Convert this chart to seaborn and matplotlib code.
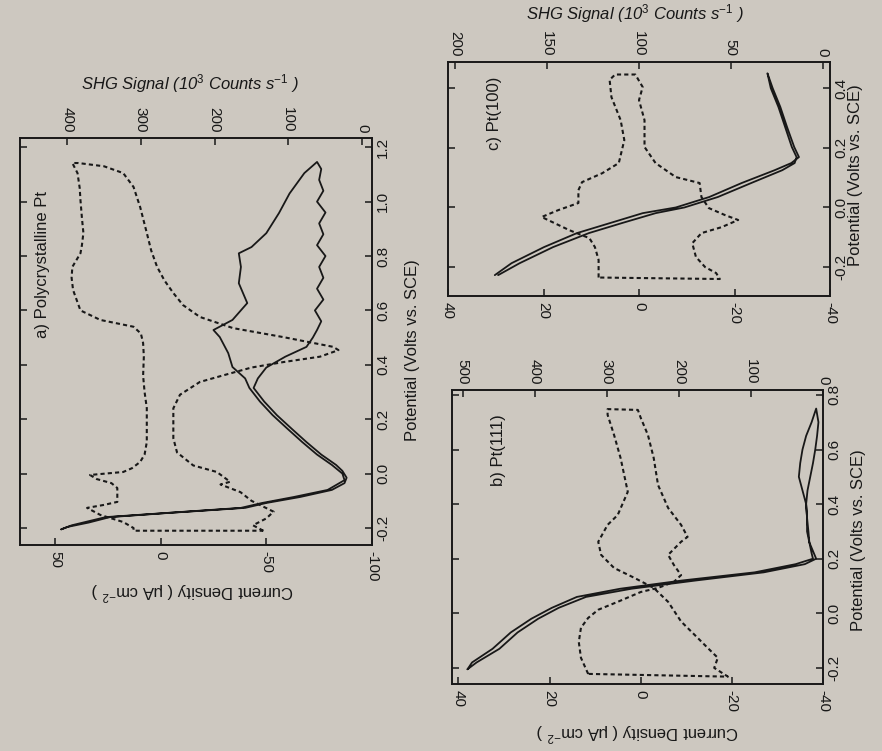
import matplotlib
matplotlib.use("Agg")
import matplotlib.pyplot as plt
import seaborn as sns

# ---------------- data ----------------
# Panel a) Polycrystalline Pt : potential (V vs SCE), current density (uA cm-2), SHG (10^3 counts/s)
a_cv_fwd_E = [-0.205, -0.196, -0.18, -0.16, -0.145, -0.126, -0.108, -0.086, -0.06, -0.035, -0.015, 0.01,
              0.032, 0.07, 0.116, 0.165, 0.215, 0.265, 0.315, 0.35, 0.39, 0.43, 0.466, 0.5, 0.528, 0.56,
              0.6, 0.64, 0.68, 0.72, 0.76, 0.8, 0.84, 0.88, 0.92, 0.96, 1.0, 1.04, 1.08, 1.12, 1.146]
a_cv_fwd_j = [47, 44, 34, 24, -3, -40, -50, -66, -81, -87, -88, -86,
              -83, -76, -69, -62, -55, -49, -44, -46, -50, -59, -69, -72, -74, -76,
              -73, -77, -74, -77, -75, -78, -74, -77, -75, -78, -74, -77, -75, -76, -74]
a_cv_rev_E = [1.146, 1.105, 1.03, 0.958, 0.884, 0.833, 0.81, 0.76, 0.70, 0.627, 0.565, 0.528, 0.502,
              0.443, 0.392, 0.35, 0.315, 0.265, 0.215, 0.165, 0.116, 0.07, 0.032, 0.0, -0.024, -0.06,
              -0.086, -0.108, -0.126, -0.16, -0.19, -0.205]
a_cv_rev_j = [-74, -68, -61, -56, -50, -43, -37, -38, -37, -41, -34, -25, -28,
              -32, -34, -40, -42, -47, -53, -60, -67, -74, -81, -86, -87, -79,
              -63, -48, -38, 26, 42, 47]
a_shg_E = [-0.21, -0.19, -0.165, -0.14, -0.1, -0.068, -0.04, -0.03, 0.006, 0.03, 0.078, 0.13, 0.18,
           0.24, 0.29, 0.337, 0.36, 0.39, 0.41, 0.43, 0.454, 0.466, 0.502, 0.535, 0.576, 0.62, 0.664,
           0.71, 0.76, 0.82, 0.885, 0.98, 1.054, 1.105, 1.13, 1.142, 1.142, 1.105, 1.05, 1.006, 0.94,
           0.885, 0.84, 0.81, 0.76, 0.72, 0.675, 0.60, 0.565, 0.54, 0.515, 0.48, 0.43, 0.36, 0.30,
           0.241, 0.18, 0.116, 0.07, 0.043, 0.02, 0.006, -0.005, -0.02, -0.035, -0.053, -0.08, -0.104,
           -0.115, -0.126, -0.152, -0.178, -0.2, -0.21, -0.21]
a_shg_S = [134, 148, 130, 120, 150, 165, 192, 179, 197, 229, 251, 256, 256,
           256, 247, 220, 190, 150, 107, 57, 32, 39, 107, 175, 220, 243, 256,
           268, 278, 286, 292, 301, 310, 324, 350, 385, 393, 386, 383, 382, 380,
           378, 380, 382, 393, 394, 392, 382, 355, 310, 300, 297, 296, 297, 295,
           292, 292, 292, 295, 301, 312, 324, 369, 360, 340, 332, 332, 332,
           350, 373, 355, 324, 310, 310, 134]
a_E_ticks = [-0.2, 0.0, 0.2, 0.4, 0.6, 0.8, 1.0, 1.2]
a_E_labels = ["-0.2", "0.0", "0.2", "0.4", "0.6", "0.8", "1.0", "1.2"]
a_j_ticks = [50, 0, -50, -100]
a_j_labels = ["50", "0", "-50", "-100"]
a_s_ticks = [0, 100, 200, 300, 400]
a_s_labels = ["0", "100", "200", "300", "400"]

# Panel b) Pt(111)
b_cv_fwd_E = [-0.205, -0.18, -0.13, -0.07, -0.02, 0.02, 0.06, 0.09, 0.12, 0.15, 0.18, 0.2, 0.22,
              0.26, 0.3, 0.35, 0.4, 0.45, 0.5, 0.55, 0.6, 0.65, 0.7, 0.75]
b_cv_fwd_j = [38, 36, 31, 27, 22.5, 18, 12, 2, -12, -27, -36, -38.5, -38,
              -37, -36.8, -36.5, -36.3, -36.6, -37.2, -37.8, -38.3, -38.7, -39, -38.5]
b_cv_rev_E = [0.75, 0.7, 0.65, 0.6, 0.55, 0.5, 0.45, 0.4, 0.35, 0.3, 0.26, 0.22, 0.2, 0.18,
              0.15, 0.12, 0.09, 0.06, 0.02, -0.02, -0.07, -0.13, -0.18, -0.205]
b_cv_rev_j = [-38.5, -37.5, -36.3, -35.5, -35, -34.7, -35.5, -36.3, -36.5, -36.5, -37, -37.5, -37.8, -34,
              -25, -9, 4.5, 14, 19.5, 24, 28.5, 32.5, 37, 38]
b_shg_E = [-0.222, -0.163, -0.105, -0.053, -0.017, 0.013, 0.042, 0.078, 0.093, 0.115, 0.14, 0.177,
           0.214, 0.262, 0.28, 0.324, 0.386, 0.47, 0.569, 0.653, 0.716, 0.745, 0.748, 0.727, 0.653,
           0.569, 0.507, 0.445, 0.36, 0.324, 0.262, 0.214, 0.166, 0.13, 0.093, 0.042, -0.03, -0.09,
           -0.127, -0.163, -0.2, -0.232, -0.222]
b_shg_S = [326, 336, 339, 336, 326, 312, 285, 253, 229, 207, 197, 207,
           215, 197, 188, 197, 215, 229, 235, 243, 253, 257, 299, 299, 290,
           281, 276, 271, 285, 299, 312, 308, 290, 262, 235, 215, 197, 174,
           160, 146, 151, 132, 326]
b_E_ticks = [-0.2, 0.0, 0.2, 0.4, 0.6, 0.8]
b_E_labels = ["-0.2", "0.0", "0.2", "0.4", "0.6", "0.8"]
b_j_ticks = [40, 20, 0, -20, -40]
b_j_labels = ["40", "20", "0", "-20", "-40"]
b_s_ticks = [0, 100, 200, 300, 400, 500]
b_s_labels = ["0", "100", "200", "300", "400", "500"]

# Panel c) Pt(100)
c_cv_fwd_E = [-0.227, -0.187, -0.133, -0.086, -0.052, -0.019, 0.0, 0.035, 0.082, 0.125, 0.149, 0.169,
              0.203, 0.27, 0.337, 0.4, 0.45]
c_cv_fwd_j = [30.2, 26.7, 19.9, 13, 6, -0.8, -7.7, -14.7, -21.5, -28.4, -31.9, -33.5,
              -32.5, -31, -29.6, -28, -26.9]
c_cv_rev_E = [0.45, 0.4, 0.337, 0.27, 0.203, 0.169, 0.149, 0.125, 0.082, 0.035, 0.0, -0.019,
              -0.052, -0.086, -0.133, -0.187, -0.227]
c_cv_rev_j = [-26.9, -27.6, -29.2, -30.6, -32, -33, -32.6, -30, -23.5, -16.5, -9.5, -3.5,
              3.5, 10.5, 18, 25, 29.5]
c_shg_E = [-0.235, -0.176, -0.133, -0.103, -0.076, -0.032, -0.009, 0.015, 0.058, 0.085, 0.115, 0.149,
           0.226, 0.293, 0.37, 0.428, 0.446, 0.446, 0.404, 0.36, 0.293, 0.203, 0.149, 0.102, 0.082,
           0.035, -0.002, -0.026, -0.042, -0.066, -0.086, -0.12, -0.166, -0.2, -0.22, -0.24, -0.235]
c_shg_S = [122, 122, 124, 127, 138, 153, 144, 133, 133, 131, 120, 111,
           108, 110, 115, 116, 113, 102, 98, 100, 97, 97, 91, 80, 67,
           66, 62, 53, 46, 55, 66, 71, 69, 64, 58, 56, 122]
c_E_ticks = [-0.2, 0.0, 0.2, 0.4]
c_E_labels = ["-0.2", "0.0", "0.2", "0.4"]
c_j_ticks = [40, 20, 0, -20, -40]
c_j_labels = ["40", "20", "0", "-20", "-40"]
c_s_ticks = [0, 50, 100, 150, 200]
c_s_labels = ["0", "50", "100", "150", "200"]

E_label = "Potential (Volts vs. SCE)"
J_label = "Current Density ( \u03bcA cm$^{-2}$ )"
S_label = "SHG Signal (10$^3$ Counts s$^{-1}$ )"

# ---------------- style ----------------
sns.set_style("ticks")
plt.rcParams["font.family"] = ["Liberation Sans", "DejaVu Sans"]
plt.rcParams["mathtext.fontset"] = "custom"
plt.rcParams["mathtext.rm"] = "Liberation Sans"
plt.rcParams["mathtext.it"] = "Liberation Sans:italic"
paper = "#cdc8c0"
ink = "#181818"

fig = plt.figure(figsize=(8.82, 7.51), dpi=100, facecolor=paper)


def panel(rect, cv_E, cv_j, shg_E, shg_S, E_lim, j_lim, s_lim,
          E_ticks, E_labels, j_ticks, j_labels, s_ticks, s_labels,
          title, title_xy, E_xy, j_xy=None, s_xy=None):
    ax = fig.add_axes(rect)
    ax.set_facecolor("none")
    sns.lineplot(x=cv_j, y=cv_E, ax=ax, sort=False, estimator=None,
                 color=ink, linewidth=1.3)
    tw = ax.twiny()
    sns.lineplot(x=shg_S, y=shg_E, ax=tw, sort=False, estimator=None,
                 color=ink, linewidth=1.5, linestyle=(0, (2.0, 1.5)))
    ax.set_ylim(*E_lim)
    ax.set_xlim(*j_lim)
    tw.set_xlim(*s_lim)
    for a in (ax, tw):
        for sp in a.spines.values():
            sp.set_linewidth(1.2)
            sp.set_color(ink)
    # potential axis: right side labels, ticks mirrored left
    ax.yaxis.tick_right()
    ax.set_yticks(E_ticks)
    ax.set_yticklabels(E_labels, rotation=90, ha="left", va="center")
    ax.tick_params(axis="y", which="both", left=True, right=True, labelleft=False,
                   labelright=True, direction="in", length=5, width=1.1,
                   labelsize=11, pad=3, colors=ink)
    # current axis: bottom
    ax.set_xticks(j_ticks)
    ax.set_xticklabels(j_labels, rotation=-90, ha="center", va="top")
    ax.tick_params(axis="x", bottom=True, top=False, direction="in", length=5,
                   width=1.1, labelsize=11, pad=4, colors=ink)
    # SHG axis: top
    tw.set_xticks(s_ticks)
    tw.set_xticklabels(s_labels, rotation=-90, ha="center", va="bottom")
    tw.tick_params(axis="x", top=True, bottom=False, direction="in", length=5,
                   width=1.1, labelsize=11, pad=4, colors=ink)
    # labels
    ax.set_ylabel(E_label, fontsize=12, color=ink)
    ax.yaxis.set_label_position("right")
    ax.yaxis.set_label_coords(*E_xy)
    ax.yaxis.label.set_rotation(90)
    ax.yaxis.label.set_rotation_mode("anchor")
    ax.yaxis.label.set_ha("center")
    ax.yaxis.label.set_va("center")
    if j_xy is not None:
        ax.set_xlabel(J_label, fontsize=12, color=ink)
        ax.xaxis.set_label_coords(*j_xy)
        ax.xaxis.label.set_rotation(180)
        ax.xaxis.label.set_rotation_mode("anchor")
        ax.xaxis.label.set_ha("center")
        ax.xaxis.label.set_va("center")
    else:
        ax.set_xlabel("")
    if s_xy is not None:
        tw.set_xlabel(S_label, fontsize=12, color=ink, style="italic")
        tw.xaxis.set_label_coords(*s_xy)
        tw.xaxis.label.set_ha("center")
        tw.xaxis.label.set_va("center")
    else:
        tw.set_xlabel("")
    ax.text(title_xy[0], title_xy[1], title, transform=ax.transAxes, rotation=90,
            ha="center", va="center", fontsize=12, color=ink)
    return ax, tw


# panel a (left, tall)
panel([20 / 882, 1 - 545 / 751, 352 / 882, 407 / 751],
      a_cv_fwd_E + a_cv_rev_E, a_cv_fwd_j + a_cv_rev_j, a_shg_E, a_shg_S,
      (-0.2625, 1.234), (66.5, -100), (464, -13.5),
      a_E_ticks, a_E_labels, a_j_ticks, a_j_labels, a_s_ticks, a_s_labels,
      "a) Polycrystalline Pt", (0.065, 0.688), (1.116, 0.479),
      j_xy=(0.49, -0.115), s_xy=(0.483, 1.135))

# panel c (top right)
panel([448 / 882, 1 - 296 / 751, 382 / 882, 234 / 751],
      c_cv_fwd_E + c_cv_rev_E, c_cv_fwd_j + c_cv_rev_j, c_shg_E, c_shg_S,
      (-0.297, 0.488), (40, -40), (204, -4),
      c_E_ticks, c_E_labels, c_j_ticks, c_j_labels, c_s_ticks, c_s_labels,
      "c) Pt(100)", (0.123, 0.782), (1.068, 0.517),
      j_xy=None, s_xy=(0.49, 1.205))

# panel b (bottom right)
panel([452 / 882, 1 - 684 / 751, 371 / 882, 294 / 751],
      b_cv_fwd_E + b_cv_rev_E, b_cv_fwd_j + b_cv_rev_j, b_shg_E, b_shg_S,
      (-0.259, 0.818), (41.4, -40), (515, 0),
      b_E_ticks, b_E_labels, b_j_ticks, b_j_labels, b_s_ticks, b_s_labels,
      "b) Pt(111)", (0.125, 0.796), (1.096, 0.49),
      j_xy=(0.5, -0.165), s_xy=None)

fig.savefig("out.png", dpi=100, facecolor=paper)
